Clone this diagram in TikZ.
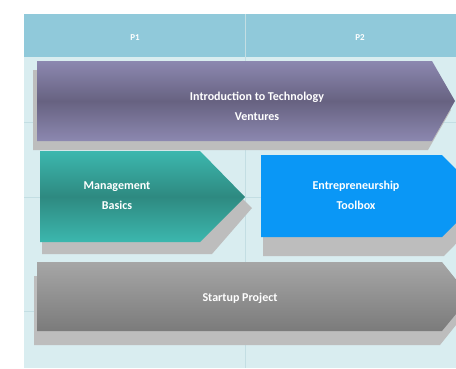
\documentclass[tikz,border=0pt]{standalone}
\usepackage{fontspec}
\setmainfont{Carlito}
\usetikzlibrary{positioning}

\definecolor{panelbg}{HTML}{D9EDF0}
\definecolor{headbg}{HTML}{90C9DA}
\definecolor{gridc}{HTML}{C3DEE3}
\definecolor{shadowc}{HTML}{BDBDBD}
\definecolor{purpleL}{HTML}{8C88B0}
\definecolor{purpleD}{HTML}{676281}
\definecolor{tealL}{HTML}{3CB7AE}
\definecolor{tealD}{HTML}{2E8981}
\definecolor{blueB}{HTML}{0A97F6}
\definecolor{grayL}{HTML}{A6A6A6}
\definecolor{grayD}{HTML}{7B7B7B}

\tikzset{
  lbl/.style={text=white, font=\bfseries\fontsize{12}{20}\selectfont, align=center},
  hdr/.style={text=white, font=\bfseries\fontsize{9}{11}\selectfont},
  shadowfill/.style={fill=shadowc},
  gridline/.style={draw=gridc, line width=0.6pt}
}

\begin{document}
\begin{tikzpicture}[x=1pt, y=-1pt]
    \useasboundingbox (0,0) rectangle (456,368);
    \clip (0,0) rectangle (456,368);

    % Panel and header band
    \fill[white] (0,0) rectangle (456,368);
    \fill[panelbg] (24,14) rectangle (470,368);
    \fill[headbg] (24,14) rectangle (470,57);
    \draw[gridline] (245,14) -- (245,368);
    \draw[gridline] (24,122) -- (456,122);
    \draw[gridline] (24,197) -- (456,197);
    \draw[gridline] (24,311) -- (456,311);

    % Header labels
    \node[hdr] (p1) at (135,38) {P1};
    \node[hdr] (p2) at (360,38) {P2};

    % Shadows
    \fill[shadowfill] (33,70) -- (428,70) -- (451,110) -- (428,150) -- (33,150) -- cycle;
    \fill[shadowfill] (42,163) -- (207,163) -- (252,208) -- (212,254) -- (42,254) -- cycle;
    \fill[shadowfill] (263,173) -- (444,173) -- (485,214) -- (444,256) -- (263,256) -- cycle;
    \fill[shadowfill] (34,276) -- (440,276) -- (468,310) -- (440,345) -- (34,345) -- cycle;

    % Chevrons
    \shade[top color=purpleL, bottom color=purpleL, middle color=purpleD]
        (37,61) -- (432,61) -- (455,101) -- (432,141) -- (37,141) -- cycle;
    \shade[top color=tealL, bottom color=tealL, middle color=tealD]
        (40,151) -- (200,151) -- (245,197) -- (200,242) -- (40,242) -- cycle;
    \fill[blueB]
        (261,155) -- (442,155) -- (483,196) -- (442,237) -- (261,237) -- cycle;
    \shade[top color=grayL, bottom color=grayD]
        (37,262) -- (442,262) -- (470,297) -- (442,331) -- (37,331) -- cycle;

    % Labels
    \node[lbl] (intro) at (257,106) {Introduction to Technology\\Ventures};
    \node[lbl] (mgmt) at (117,196) {Management\\Basics};
    \node[lbl] (toolbox) at (356,195) {Entrepreneurship\\Toolbox};
    \node[lbl] (startup) at (240,298) {Startup Project};
\end{tikzpicture}
\end{document}
